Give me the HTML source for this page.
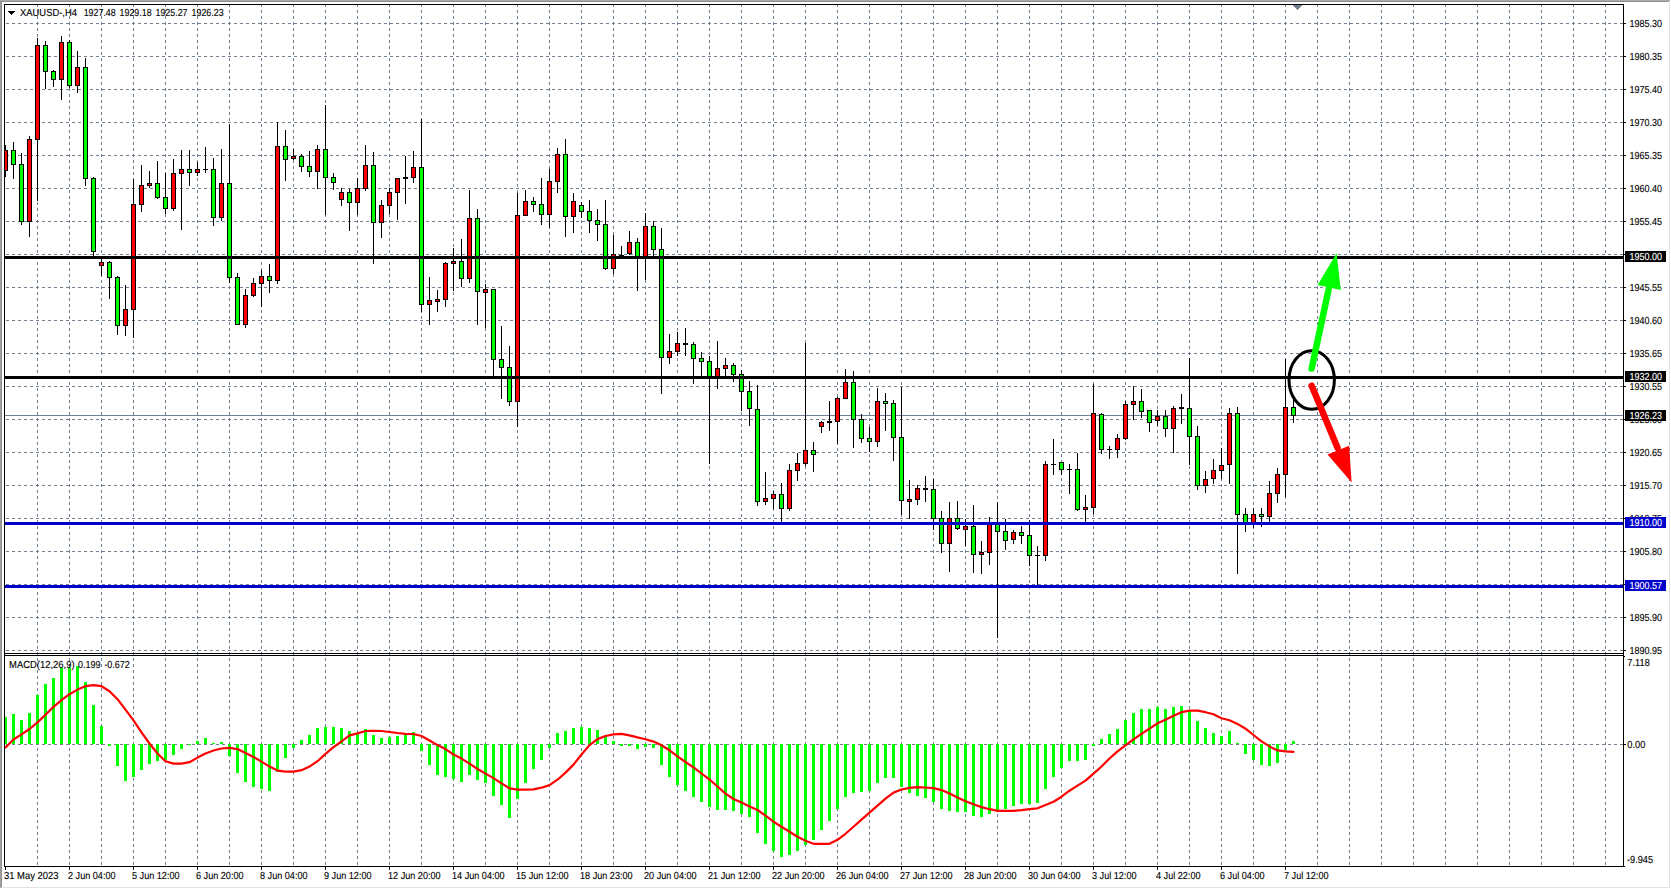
<!DOCTYPE html>
<html><head><meta charset="utf-8"><title>XAUUSD-,H4</title>
<style>
html,body{margin:0;padding:0;background:#fff;overflow:hidden}
svg{display:block}
text{font-family:"Liberation Sans",sans-serif;font-size:10.2px;text-rendering:geometricPrecision;fill:#000;stroke:#000;stroke-width:.12px}
.w{fill:#fff;stroke:#fff}
</style></head><body>
<svg width="1671" height="889" viewBox="0 0 1671 889">
<rect x="0" y="0" width="1671" height="889" fill="#fff"/>
<g shape-rendering="crispEdges">
<rect x="0" y="0" width="1670" height="1" fill="#ababab"/>
<rect x="0" y="1" width="1669" height="1" fill="#8e8e8e"/>
<rect x="0" y="0" width="1" height="888" fill="#a0a0a0"/>
<rect x="1" y="1" width="1" height="886" fill="#8e8e8e"/>
<rect x="1669" y="2" width="1" height="886" fill="#e3e3e3"/>
<rect x="1" y="887" width="1669" height="1" fill="#e3e3e3"/>
</g>
<g stroke="#708090" stroke-width="1" stroke-dasharray="3 3" shape-rendering="crispEdges" fill="none">
<path d="M6 23.5H1623"/><path d="M6 56.5H1623"/><path d="M6 89.5H1623"/><path d="M6 122.5H1623"/><path d="M6 155.5H1623"/><path d="M6 188.5H1623"/><path d="M6 221.5H1623"/><path d="M6 254.5H1623"/><path d="M6 287.5H1623"/><path d="M6 320.5H1623"/><path d="M6 353.5H1623"/><path d="M6 386.5H1623"/><path d="M6 419.5H1623"/><path d="M6 452.5H1623"/><path d="M6 485.5H1623"/><path d="M6 518.5H1623"/><path d="M6 551.5H1623"/><path d="M6 584.5H1623"/><path d="M6 617.5H1623"/><path d="M6 650.5H1623"/><path d="M6 744.5H1623"/>
<path d="M37.5 4V866"/><path d="M69.5 4V866"/><path d="M101.5 4V866"/><path d="M133.5 4V866"/><path d="M165.5 4V866"/><path d="M197.5 4V866"/><path d="M229.5 4V866"/><path d="M261.5 4V866"/><path d="M293.5 4V866"/><path d="M325.5 4V866"/><path d="M357.5 4V866"/><path d="M389.5 4V866"/><path d="M421.5 4V866"/><path d="M453.5 4V866"/><path d="M485.5 4V866"/><path d="M517.5 4V866"/><path d="M549.5 4V866"/><path d="M581.5 4V866"/><path d="M613.5 4V866"/><path d="M645.5 4V866"/><path d="M677.5 4V866"/><path d="M709.5 4V866"/><path d="M741.5 4V866"/><path d="M773.5 4V866"/><path d="M805.5 4V866"/><path d="M837.5 4V866"/><path d="M869.5 4V866"/><path d="M901.5 4V866"/><path d="M933.5 4V866"/><path d="M965.5 4V866"/><path d="M997.5 4V866"/><path d="M1029.5 4V866"/><path d="M1061.5 4V866"/><path d="M1093.5 4V866"/><path d="M1125.5 4V866"/><path d="M1157.5 4V866"/><path d="M1189.5 4V866"/><path d="M1221.5 4V866"/><path d="M1253.5 4V866"/><path d="M1285.5 4V866"/><path d="M1317.5 4V866"/><path d="M1349.5 4V866"/><path d="M1381.5 4V866"/><path d="M1413.5 4V866"/><path d="M1445.5 4V866"/><path d="M1477.5 4V866"/><path d="M1509.5 4V866"/><path d="M1541.5 4V866"/><path d="M1573.5 4V866"/><path d="M1605.5 4V866"/>
</g>
<g fill="#00ff00" shape-rendering="crispEdges">
<rect x="4" y="717" width="3" height="27"/><rect x="12" y="714" width="3" height="30"/><rect x="20" y="720" width="3" height="24"/><rect x="28" y="713" width="3" height="31"/><rect x="36" y="695" width="3" height="49"/><rect x="44" y="684" width="3" height="60"/><rect x="52" y="678" width="3" height="66"/><rect x="60" y="668" width="3" height="76"/><rect x="68" y="668" width="3" height="76"/><rect x="76" y="666" width="3" height="78"/><rect x="84" y="682" width="3" height="62"/><rect x="92" y="705" width="3" height="39"/><rect x="100" y="726" width="3" height="18"/><rect x="108" y="744" width="3" height="2"/><rect x="116" y="744" width="3" height="22"/><rect x="124" y="744" width="3" height="37"/><rect x="132" y="744" width="3" height="33"/><rect x="140" y="744" width="3" height="26"/><rect x="148" y="744" width="3" height="20"/><rect x="156" y="744" width="3" height="17"/><rect x="164" y="744" width="3" height="16"/><rect x="172" y="744" width="3" height="11"/><rect x="180" y="744" width="3" height="5"/><rect x="188" y="744" width="3" height="1"/><rect x="196" y="741" width="3" height="3"/><rect x="204" y="738" width="3" height="6"/><rect x="212" y="743" width="3" height="1"/><rect x="220" y="742" width="3" height="2"/><rect x="228" y="744" width="3" height="12"/><rect x="236" y="744" width="3" height="29"/><rect x="244" y="744" width="3" height="38"/><rect x="252" y="744" width="3" height="43"/><rect x="260" y="744" width="3" height="45"/><rect x="268" y="744" width="3" height="47"/><rect x="276" y="744" width="3" height="28"/><rect x="284" y="744" width="3" height="14"/><rect x="292" y="744" width="3" height="4"/><rect x="300" y="740" width="3" height="4"/><rect x="308" y="735" width="3" height="9"/><rect x="316" y="728" width="3" height="16"/><rect x="324" y="727" width="3" height="17"/><rect x="332" y="727" width="3" height="17"/><rect x="340" y="728" width="3" height="16"/><rect x="348" y="731" width="3" height="13"/><rect x="356" y="733" width="3" height="11"/><rect x="364" y="729" width="3" height="15"/><rect x="372" y="735" width="3" height="9"/><rect x="380" y="738" width="3" height="6"/><rect x="388" y="737" width="3" height="7"/><rect x="396" y="736" width="3" height="8"/><rect x="404" y="734" width="3" height="10"/><rect x="412" y="732" width="3" height="12"/><rect x="420" y="744" width="3" height="7"/><rect x="428" y="744" width="3" height="21"/><rect x="436" y="744" width="3" height="31"/><rect x="444" y="744" width="3" height="33"/><rect x="452" y="744" width="3" height="35"/><rect x="460" y="744" width="3" height="38"/><rect x="468" y="744" width="3" height="31"/><rect x="476" y="744" width="3" height="36"/><rect x="484" y="744" width="3" height="39"/><rect x="492" y="744" width="3" height="52"/><rect x="500" y="744" width="3" height="61"/><rect x="508" y="744" width="3" height="74"/><rect x="516" y="744" width="3" height="55"/><rect x="524" y="744" width="3" height="39"/><rect x="532" y="744" width="3" height="25"/><rect x="540" y="744" width="3" height="16"/><rect x="548" y="744" width="3" height="4"/><rect x="556" y="733" width="3" height="11"/><rect x="564" y="731" width="3" height="13"/><rect x="572" y="728" width="3" height="16"/><rect x="580" y="727" width="3" height="17"/><rect x="588" y="728" width="3" height="16"/><rect x="596" y="730" width="3" height="14"/><rect x="604" y="736" width="3" height="8"/><rect x="612" y="741" width="3" height="3"/><rect x="620" y="744" width="3" height="2"/><rect x="628" y="744" width="3" height="2"/><rect x="636" y="744" width="3" height="5"/><rect x="644" y="744" width="3" height="3"/><rect x="652" y="744" width="3" height="4"/><rect x="660" y="744" width="3" height="21"/><rect x="668" y="744" width="3" height="33"/><rect x="676" y="744" width="3" height="41"/><rect x="684" y="744" width="3" height="47"/><rect x="692" y="744" width="3" height="53"/><rect x="700" y="744" width="3" height="58"/><rect x="708" y="744" width="3" height="63"/><rect x="716" y="744" width="3" height="66"/><rect x="724" y="744" width="3" height="66"/><rect x="732" y="744" width="3" height="67"/><rect x="740" y="744" width="3" height="70"/><rect x="748" y="744" width="3" height="73"/><rect x="756" y="744" width="3" height="89"/><rect x="764" y="744" width="3" height="100"/><rect x="772" y="744" width="3" height="107"/><rect x="780" y="744" width="3" height="113"/><rect x="788" y="744" width="3" height="111"/><rect x="796" y="744" width="3" height="107"/><rect x="804" y="744" width="3" height="101"/><rect x="812" y="744" width="3" height="96"/><rect x="820" y="744" width="3" height="86"/><rect x="828" y="744" width="3" height="77"/><rect x="836" y="744" width="3" height="65"/><rect x="844" y="744" width="3" height="53"/><rect x="852" y="744" width="3" height="49"/><rect x="860" y="744" width="3" height="48"/><rect x="868" y="744" width="3" height="47"/><rect x="876" y="744" width="3" height="39"/><rect x="884" y="744" width="3" height="34"/><rect x="892" y="744" width="3" height="34"/><rect x="900" y="744" width="3" height="43"/><rect x="908" y="744" width="3" height="49"/><rect x="916" y="744" width="3" height="52"/><rect x="924" y="744" width="3" height="54"/><rect x="932" y="744" width="3" height="58"/><rect x="940" y="744" width="3" height="65"/><rect x="948" y="744" width="3" height="67"/><rect x="956" y="744" width="3" height="68"/><rect x="964" y="744" width="3" height="68"/><rect x="972" y="744" width="3" height="72"/><rect x="980" y="744" width="3" height="73"/><rect x="988" y="744" width="3" height="70"/><rect x="996" y="744" width="3" height="67"/><rect x="1004" y="744" width="3" height="65"/><rect x="1012" y="744" width="3" height="62"/><rect x="1020" y="744" width="3" height="60"/><rect x="1028" y="744" width="3" height="60"/><rect x="1036" y="744" width="3" height="59"/><rect x="1044" y="744" width="3" height="45"/><rect x="1052" y="744" width="3" height="33"/><rect x="1060" y="744" width="3" height="24"/><rect x="1068" y="744" width="3" height="17"/><rect x="1076" y="744" width="3" height="17"/><rect x="1084" y="744" width="3" height="16"/><rect x="1092" y="744" width="3" height="2"/><rect x="1100" y="739" width="3" height="5"/><rect x="1108" y="734" width="3" height="10"/><rect x="1116" y="729" width="3" height="15"/><rect x="1124" y="720" width="3" height="24"/><rect x="1132" y="713" width="3" height="31"/><rect x="1140" y="709" width="3" height="35"/><rect x="1148" y="709" width="3" height="35"/><rect x="1156" y="707" width="3" height="37"/><rect x="1164" y="709" width="3" height="35"/><rect x="1172" y="707" width="3" height="37"/><rect x="1180" y="706" width="3" height="38"/><rect x="1188" y="710" width="3" height="34"/><rect x="1196" y="721" width="3" height="23"/><rect x="1204" y="728" width="3" height="16"/><rect x="1212" y="733" width="3" height="11"/><rect x="1220" y="736" width="3" height="8"/><rect x="1228" y="731" width="3" height="13"/><rect x="1236" y="743" width="3" height="1"/><rect x="1244" y="744" width="3" height="10"/><rect x="1252" y="744" width="3" height="16"/><rect x="1260" y="744" width="3" height="21"/><rect x="1268" y="744" width="3" height="22"/><rect x="1276" y="744" width="3" height="19"/><rect x="1284" y="744" width="3" height="6"/><rect x="1292" y="741" width="3" height="3"/>
</g>
<polyline points="5.5,747.5 13.5,739.5 21.5,734.4 29.5,729.0 37.5,722.4 45.5,714.7 53.5,706.9 61.5,700.2 69.5,694.2 77.5,689.6 85.5,686.2 93.5,685.2 101.5,686.2 109.5,691.2 117.5,699.2 125.5,709.7 133.5,720.4 141.5,732.4 149.5,743.5 157.5,753.5 165.5,761.2 173.5,763.6 181.5,763.6 189.5,762.2 197.5,757.6 205.5,753.5 213.5,750.5 221.5,748.5 229.5,747.9 237.5,749.1 245.5,752.9 253.5,756.9 261.5,761.6 269.5,766.6 277.5,770.6 285.5,771.6 293.5,771.6 301.5,770.2 309.5,766.6 317.5,761.2 325.5,753.9 333.5,747.1 341.5,741.5 349.5,735.4 357.5,733.4 365.5,731.0 373.5,730.8 381.5,731.0 389.5,732.0 397.5,733.0 405.5,733.8 413.5,734.0 421.5,736.0 429.5,740.5 437.5,745.1 445.5,749.1 453.5,754.5 461.5,758.6 469.5,763.6 477.5,769.0 485.5,773.6 493.5,778.1 501.5,783.3 509.5,788.3 517.5,789.7 525.5,789.7 533.5,789.3 541.5,787.7 549.5,785.1 557.5,779.7 565.5,772.6 573.5,764.6 581.5,754.5 589.5,745.1 597.5,739.1 605.5,736.0 613.5,734.4 621.5,733.8 629.5,735.4 637.5,737.4 645.5,739.2 653.5,741.6 661.5,745.3 669.5,750.3 677.5,756.4 685.5,762.0 693.5,767.4 701.5,773.5 709.5,779.5 717.5,786.5 725.5,793.6 733.5,799.0 741.5,802.6 749.5,806.6 757.5,810.0 765.5,815.7 773.5,821.7 781.5,826.7 789.5,831.8 797.5,836.8 805.5,840.8 813.5,843.8 821.5,843.8 829.5,843.8 837.5,839.8 845.5,833.8 853.5,826.7 861.5,819.7 869.5,812.7 877.5,805.6 885.5,798.6 893.5,792.6 901.5,789.5 909.5,787.9 917.5,787.1 925.5,787.5 933.5,788.1 941.5,790.1 949.5,793.6 957.5,797.6 965.5,801.2 973.5,804.2 981.5,807.1 989.5,809.2 997.5,810.8 1005.5,810.8 1013.5,810.8 1021.5,810.2 1029.5,809.2 1037.5,808.3 1045.5,805.1 1053.5,801.7 1061.5,796.7 1069.5,790.7 1077.5,785.6 1085.5,780.6 1093.5,773.6 1101.5,766.5 1109.5,758.5 1117.5,751.4 1125.5,745.4 1133.5,739.4 1141.5,733.9 1149.5,728.7 1157.5,723.3 1165.5,719.7 1173.5,715.8 1181.5,712.2 1189.5,710.6 1197.5,710.6 1205.5,712.2 1213.5,714.2 1221.5,718.3 1229.5,720.3 1237.5,723.9 1245.5,728.7 1253.5,735.0 1261.5,741.4 1269.5,746.4 1277.5,750.4 1285.5,751.4 1293.5,751.8" fill="none" stroke="#ff0000" stroke-width="2.2" stroke-linejoin="round" stroke-linecap="round"/>
<defs><clipPath id="cm"><rect x="5" y="5" width="1618" height="648"/></clipPath></defs>
<rect x="5" y="415" width="1618" height="1" fill="#708090" shape-rendering="crispEdges"/>
<g shape-rendering="crispEdges" clip-path="url(#cm)">
<rect x="5" y="145" width="1" height="32" fill="#000"/><rect x="3" y="150" width="5" height="21" fill="#000"/><rect x="4" y="151" width="3" height="19" fill="#ff0000"/>
<rect x="13" y="142" width="1" height="37" fill="#000"/><rect x="11" y="150" width="5" height="15" fill="#000"/><rect x="12" y="151" width="3" height="13" fill="#00ff00"/>
<rect x="21" y="153" width="1" height="72" fill="#000"/><rect x="19" y="164" width="5" height="58" fill="#000"/><rect x="20" y="165" width="3" height="56" fill="#00ff00"/>
<rect x="29" y="136" width="1" height="101" fill="#000"/><rect x="27" y="139" width="5" height="83" fill="#000"/><rect x="28" y="140" width="3" height="81" fill="#ff0000"/>
<rect x="37" y="38" width="1" height="163" fill="#000"/><rect x="35" y="45" width="5" height="95" fill="#000"/><rect x="36" y="46" width="3" height="93" fill="#ff0000"/>
<rect x="45" y="41" width="1" height="48" fill="#000"/><rect x="43" y="45" width="5" height="27" fill="#000"/><rect x="44" y="46" width="3" height="25" fill="#00ff00"/>
<rect x="53" y="70" width="1" height="17" fill="#000"/><rect x="51" y="71" width="5" height="9" fill="#000"/><rect x="52" y="72" width="3" height="7" fill="#00ff00"/>
<rect x="61" y="36" width="1" height="64" fill="#000"/><rect x="59" y="42" width="5" height="38" fill="#000"/><rect x="60" y="43" width="3" height="36" fill="#ff0000"/>
<rect x="69" y="40" width="1" height="48" fill="#000"/><rect x="67" y="42" width="5" height="44" fill="#000"/><rect x="68" y="43" width="3" height="42" fill="#00ff00"/>
<rect x="77" y="51" width="1" height="42" fill="#000"/><rect x="75" y="67" width="5" height="19" fill="#000"/><rect x="76" y="68" width="3" height="17" fill="#ff0000"/>
<rect x="85" y="58" width="1" height="128" fill="#000"/><rect x="83" y="67" width="5" height="112" fill="#000"/><rect x="84" y="68" width="3" height="110" fill="#00ff00"/>
<rect x="93" y="177" width="1" height="79" fill="#000"/><rect x="91" y="178" width="5" height="74" fill="#000"/><rect x="92" y="179" width="3" height="72" fill="#00ff00"/>
<rect x="101" y="259" width="1" height="17" fill="#000"/><rect x="99" y="262" width="5" height="4" fill="#000"/><rect x="100" y="263" width="3" height="2" fill="#ff0000"/>
<rect x="109" y="261" width="1" height="38" fill="#000"/><rect x="107" y="262" width="5" height="16" fill="#000"/><rect x="108" y="263" width="3" height="14" fill="#00ff00"/>
<rect x="117" y="276" width="1" height="59" fill="#000"/><rect x="115" y="277" width="5" height="49" fill="#000"/><rect x="116" y="278" width="3" height="47" fill="#00ff00"/>
<rect x="125" y="285" width="1" height="51" fill="#000"/><rect x="123" y="309" width="5" height="17" fill="#000"/><rect x="124" y="310" width="3" height="15" fill="#ff0000"/>
<rect x="133" y="179" width="1" height="159" fill="#000"/><rect x="131" y="204" width="5" height="106" fill="#000"/><rect x="132" y="205" width="3" height="104" fill="#ff0000"/>
<rect x="141" y="165" width="1" height="47" fill="#000"/><rect x="139" y="185" width="5" height="20" fill="#000"/><rect x="140" y="186" width="3" height="18" fill="#ff0000"/>
<rect x="149" y="171" width="1" height="17" fill="#000"/><rect x="147" y="183" width="5" height="3" fill="#000"/><rect x="148" y="184" width="3" height="1" fill="#ff0000"/>
<rect x="157" y="161" width="1" height="38" fill="#000"/><rect x="155" y="183" width="5" height="15" fill="#000"/><rect x="156" y="184" width="3" height="13" fill="#00ff00"/>
<rect x="165" y="173" width="1" height="41" fill="#000"/><rect x="163" y="197" width="5" height="12" fill="#000"/><rect x="164" y="198" width="3" height="10" fill="#00ff00"/>
<rect x="173" y="159" width="1" height="52" fill="#000"/><rect x="171" y="173" width="5" height="36" fill="#000"/><rect x="172" y="174" width="3" height="34" fill="#ff0000"/>
<rect x="181" y="150" width="1" height="80" fill="#000"/><rect x="179" y="169" width="5" height="5" fill="#000"/><rect x="180" y="170" width="3" height="3" fill="#ff0000"/>
<rect x="189" y="150" width="1" height="36" fill="#000"/><rect x="187" y="169" width="5" height="4" fill="#000"/><rect x="188" y="170" width="3" height="2" fill="#00ff00"/>
<rect x="197" y="162" width="1" height="14" fill="#000"/><rect x="195" y="169" width="5" height="4" fill="#000"/><rect x="196" y="170" width="3" height="2" fill="#ff0000"/>
<rect x="205" y="147" width="1" height="26" fill="#000"/><rect x="203" y="169" width="5" height="1" fill="#000"/>
<rect x="213" y="158" width="1" height="68" fill="#000"/><rect x="211" y="169" width="5" height="49" fill="#000"/><rect x="212" y="170" width="3" height="47" fill="#00ff00"/>
<rect x="221" y="149" width="1" height="72" fill="#000"/><rect x="219" y="183" width="5" height="35" fill="#000"/><rect x="220" y="184" width="3" height="33" fill="#ff0000"/>
<rect x="229" y="124" width="1" height="159" fill="#000"/><rect x="227" y="183" width="5" height="95" fill="#000"/><rect x="228" y="184" width="3" height="93" fill="#00ff00"/>
<rect x="237" y="273" width="1" height="52" fill="#000"/><rect x="235" y="277" width="5" height="48" fill="#000"/><rect x="236" y="278" width="3" height="46" fill="#00ff00"/>
<rect x="245" y="289" width="1" height="39" fill="#000"/><rect x="243" y="295" width="5" height="30" fill="#000"/><rect x="244" y="296" width="3" height="28" fill="#ff0000"/>
<rect x="253" y="278" width="1" height="19" fill="#000"/><rect x="251" y="283" width="5" height="13" fill="#000"/><rect x="252" y="284" width="3" height="11" fill="#ff0000"/>
<rect x="261" y="270" width="1" height="37" fill="#000"/><rect x="259" y="276" width="5" height="8" fill="#000"/><rect x="260" y="277" width="3" height="6" fill="#ff0000"/>
<rect x="269" y="264" width="1" height="29" fill="#000"/><rect x="267" y="276" width="5" height="5" fill="#000"/><rect x="268" y="277" width="3" height="3" fill="#00ff00"/>
<rect x="277" y="122" width="1" height="162" fill="#000"/><rect x="275" y="146" width="5" height="135" fill="#000"/><rect x="276" y="147" width="3" height="133" fill="#ff0000"/>
<rect x="285" y="130" width="1" height="51" fill="#000"/><rect x="283" y="146" width="5" height="14" fill="#000"/><rect x="284" y="147" width="3" height="12" fill="#00ff00"/>
<rect x="293" y="149" width="1" height="11" fill="#000"/><rect x="291" y="156" width="5" height="3" fill="#000"/><rect x="292" y="157" width="3" height="1" fill="#ff0000"/>
<rect x="301" y="154" width="1" height="18" fill="#000"/><rect x="299" y="156" width="5" height="11" fill="#000"/><rect x="300" y="157" width="3" height="9" fill="#00ff00"/>
<rect x="309" y="151" width="1" height="26" fill="#000"/><rect x="307" y="166" width="5" height="6" fill="#000"/><rect x="308" y="167" width="3" height="4" fill="#00ff00"/>
<rect x="317" y="145" width="1" height="44" fill="#000"/><rect x="315" y="149" width="5" height="23" fill="#000"/><rect x="316" y="150" width="3" height="21" fill="#ff0000"/>
<rect x="325" y="105" width="1" height="110" fill="#000"/><rect x="323" y="149" width="5" height="29" fill="#000"/><rect x="324" y="150" width="3" height="27" fill="#00ff00"/>
<rect x="333" y="173" width="1" height="17" fill="#000"/><rect x="331" y="177" width="5" height="6" fill="#000"/><rect x="332" y="178" width="3" height="4" fill="#00ff00"/>
<rect x="341" y="188" width="1" height="18" fill="#000"/><rect x="339" y="192" width="5" height="8" fill="#000"/><rect x="340" y="193" width="3" height="6" fill="#ff0000"/>
<rect x="349" y="189" width="1" height="42" fill="#000"/><rect x="347" y="192" width="5" height="11" fill="#000"/><rect x="348" y="193" width="3" height="9" fill="#00ff00"/>
<rect x="357" y="178" width="1" height="37" fill="#000"/><rect x="355" y="188" width="5" height="15" fill="#000"/><rect x="356" y="189" width="3" height="13" fill="#ff0000"/>
<rect x="365" y="145" width="1" height="46" fill="#000"/><rect x="363" y="165" width="5" height="24" fill="#000"/><rect x="364" y="166" width="3" height="22" fill="#ff0000"/>
<rect x="373" y="152" width="1" height="112" fill="#000"/><rect x="371" y="165" width="5" height="58" fill="#000"/><rect x="372" y="166" width="3" height="56" fill="#00ff00"/>
<rect x="381" y="200" width="1" height="38" fill="#000"/><rect x="379" y="205" width="5" height="18" fill="#000"/><rect x="380" y="206" width="3" height="16" fill="#ff0000"/>
<rect x="389" y="188" width="1" height="26" fill="#000"/><rect x="387" y="192" width="5" height="14" fill="#000"/><rect x="388" y="193" width="3" height="12" fill="#ff0000"/>
<rect x="397" y="178" width="1" height="42" fill="#000"/><rect x="395" y="178" width="5" height="15" fill="#000"/><rect x="396" y="179" width="3" height="13" fill="#ff0000"/>
<rect x="405" y="156" width="1" height="48" fill="#000"/><rect x="403" y="177" width="5" height="2" fill="#000"/>
<rect x="413" y="151" width="1" height="32" fill="#000"/><rect x="411" y="167" width="5" height="11" fill="#000"/><rect x="412" y="168" width="3" height="9" fill="#ff0000"/>
<rect x="421" y="119" width="1" height="193" fill="#000"/><rect x="419" y="167" width="5" height="138" fill="#000"/><rect x="420" y="168" width="3" height="136" fill="#00ff00"/>
<rect x="429" y="277" width="1" height="48" fill="#000"/><rect x="427" y="300" width="5" height="5" fill="#000"/><rect x="428" y="301" width="3" height="3" fill="#ff0000"/>
<rect x="437" y="290" width="1" height="22" fill="#000"/><rect x="435" y="299" width="5" height="3" fill="#000"/><rect x="436" y="300" width="3" height="1" fill="#ff0000"/>
<rect x="445" y="262" width="1" height="45" fill="#000"/><rect x="443" y="263" width="5" height="37" fill="#000"/><rect x="444" y="264" width="3" height="35" fill="#ff0000"/>
<rect x="453" y="248" width="1" height="43" fill="#000"/><rect x="451" y="261" width="5" height="3" fill="#000"/><rect x="452" y="262" width="3" height="1" fill="#ff0000"/>
<rect x="461" y="239" width="1" height="48" fill="#000"/><rect x="459" y="261" width="5" height="18" fill="#000"/><rect x="460" y="262" width="3" height="16" fill="#00ff00"/>
<rect x="469" y="190" width="1" height="93" fill="#000"/><rect x="467" y="218" width="5" height="61" fill="#000"/><rect x="468" y="219" width="3" height="59" fill="#ff0000"/>
<rect x="477" y="209" width="1" height="116" fill="#000"/><rect x="475" y="218" width="5" height="74" fill="#000"/><rect x="476" y="219" width="3" height="72" fill="#00ff00"/>
<rect x="485" y="284" width="1" height="44" fill="#000"/><rect x="483" y="289" width="5" height="4" fill="#000"/><rect x="484" y="290" width="3" height="2" fill="#ff0000"/>
<rect x="493" y="289" width="1" height="88" fill="#000"/><rect x="491" y="289" width="5" height="71" fill="#000"/><rect x="492" y="290" width="3" height="69" fill="#00ff00"/>
<rect x="501" y="326" width="1" height="73" fill="#000"/><rect x="499" y="359" width="5" height="9" fill="#000"/><rect x="500" y="360" width="3" height="7" fill="#00ff00"/>
<rect x="509" y="346" width="1" height="60" fill="#000"/><rect x="507" y="367" width="5" height="35" fill="#000"/><rect x="508" y="368" width="3" height="33" fill="#00ff00"/>
<rect x="517" y="193" width="1" height="234" fill="#000"/><rect x="515" y="215" width="5" height="187" fill="#000"/><rect x="516" y="216" width="3" height="185" fill="#ff0000"/>
<rect x="525" y="190" width="1" height="26" fill="#000"/><rect x="523" y="201" width="5" height="15" fill="#000"/><rect x="524" y="202" width="3" height="13" fill="#ff0000"/>
<rect x="533" y="197" width="1" height="15" fill="#000"/><rect x="531" y="201" width="5" height="4" fill="#000"/><rect x="532" y="202" width="3" height="2" fill="#00ff00"/>
<rect x="541" y="178" width="1" height="47" fill="#000"/><rect x="539" y="204" width="5" height="11" fill="#000"/><rect x="540" y="205" width="3" height="9" fill="#00ff00"/>
<rect x="549" y="169" width="1" height="59" fill="#000"/><rect x="547" y="181" width="5" height="34" fill="#000"/><rect x="548" y="182" width="3" height="32" fill="#ff0000"/>
<rect x="557" y="148" width="1" height="45" fill="#000"/><rect x="555" y="154" width="5" height="28" fill="#000"/><rect x="556" y="155" width="3" height="26" fill="#ff0000"/>
<rect x="565" y="139" width="1" height="98" fill="#000"/><rect x="563" y="154" width="5" height="63" fill="#000"/><rect x="564" y="155" width="3" height="61" fill="#00ff00"/>
<rect x="573" y="193" width="1" height="40" fill="#000"/><rect x="571" y="201" width="5" height="16" fill="#000"/><rect x="572" y="202" width="3" height="14" fill="#ff0000"/>
<rect x="581" y="202" width="1" height="16" fill="#000"/><rect x="579" y="205" width="5" height="7" fill="#000"/><rect x="580" y="206" width="3" height="5" fill="#00ff00"/>
<rect x="589" y="200" width="1" height="33" fill="#000"/><rect x="587" y="211" width="5" height="10" fill="#000"/><rect x="588" y="212" width="3" height="8" fill="#00ff00"/>
<rect x="597" y="209" width="1" height="32" fill="#000"/><rect x="595" y="220" width="5" height="5" fill="#000"/><rect x="596" y="221" width="3" height="3" fill="#00ff00"/>
<rect x="605" y="200" width="1" height="70" fill="#000"/><rect x="603" y="224" width="5" height="45" fill="#000"/><rect x="604" y="225" width="3" height="43" fill="#00ff00"/>
<rect x="613" y="235" width="1" height="39" fill="#000"/><rect x="611" y="254" width="5" height="15" fill="#000"/><rect x="612" y="255" width="3" height="13" fill="#ff0000"/>
<rect x="621" y="246" width="1" height="11" fill="#000"/><rect x="619" y="255" width="5" height="1" fill="#000"/>
<rect x="629" y="231" width="1" height="24" fill="#000"/><rect x="627" y="242" width="5" height="12" fill="#000"/><rect x="628" y="243" width="3" height="10" fill="#ff0000"/>
<rect x="637" y="238" width="1" height="53" fill="#000"/><rect x="635" y="242" width="5" height="15" fill="#000"/><rect x="636" y="243" width="3" height="13" fill="#00ff00"/>
<rect x="645" y="213" width="1" height="67" fill="#000"/><rect x="643" y="226" width="5" height="31" fill="#000"/><rect x="644" y="227" width="3" height="29" fill="#ff0000"/>
<rect x="653" y="221" width="1" height="36" fill="#000"/><rect x="651" y="226" width="5" height="24" fill="#000"/><rect x="652" y="227" width="3" height="22" fill="#00ff00"/>
<rect x="661" y="228" width="1" height="166" fill="#000"/><rect x="659" y="249" width="5" height="109" fill="#000"/><rect x="660" y="250" width="3" height="107" fill="#00ff00"/>
<rect x="669" y="334" width="1" height="30" fill="#000"/><rect x="667" y="351" width="5" height="7" fill="#000"/><rect x="668" y="352" width="3" height="5" fill="#ff0000"/>
<rect x="677" y="332" width="1" height="24" fill="#000"/><rect x="675" y="343" width="5" height="9" fill="#000"/><rect x="676" y="344" width="3" height="7" fill="#ff0000"/>
<rect x="685" y="328" width="1" height="28" fill="#000"/><rect x="683" y="343" width="5" height="2" fill="#000"/>
<rect x="693" y="342" width="1" height="42" fill="#000"/><rect x="691" y="344" width="5" height="15" fill="#000"/><rect x="692" y="345" width="3" height="13" fill="#00ff00"/>
<rect x="701" y="352" width="1" height="24" fill="#000"/><rect x="699" y="358" width="5" height="4" fill="#000"/><rect x="700" y="359" width="3" height="2" fill="#00ff00"/>
<rect x="709" y="356" width="1" height="108" fill="#000"/><rect x="707" y="361" width="5" height="16" fill="#000"/><rect x="708" y="362" width="3" height="14" fill="#00ff00"/>
<rect x="717" y="341" width="1" height="48" fill="#000"/><rect x="715" y="368" width="5" height="9" fill="#000"/><rect x="716" y="369" width="3" height="7" fill="#ff0000"/>
<rect x="725" y="358" width="1" height="18" fill="#000"/><rect x="723" y="365" width="5" height="4" fill="#000"/><rect x="724" y="366" width="3" height="2" fill="#ff0000"/>
<rect x="733" y="363" width="1" height="19" fill="#000"/><rect x="731" y="365" width="5" height="10" fill="#000"/><rect x="732" y="366" width="3" height="8" fill="#00ff00"/>
<rect x="741" y="370" width="1" height="41" fill="#000"/><rect x="739" y="374" width="5" height="18" fill="#000"/><rect x="740" y="375" width="3" height="16" fill="#00ff00"/>
<rect x="749" y="381" width="1" height="45" fill="#000"/><rect x="747" y="391" width="5" height="18" fill="#000"/><rect x="748" y="392" width="3" height="16" fill="#00ff00"/>
<rect x="757" y="385" width="1" height="121" fill="#000"/><rect x="755" y="409" width="5" height="93" fill="#000"/><rect x="756" y="410" width="3" height="91" fill="#00ff00"/>
<rect x="765" y="472" width="1" height="33" fill="#000"/><rect x="763" y="498" width="5" height="4" fill="#000"/><rect x="764" y="499" width="3" height="2" fill="#ff0000"/>
<rect x="773" y="491" width="1" height="18" fill="#000"/><rect x="771" y="494" width="5" height="5" fill="#000"/><rect x="772" y="495" width="3" height="3" fill="#ff0000"/>
<rect x="781" y="483" width="1" height="39" fill="#000"/><rect x="779" y="494" width="5" height="15" fill="#000"/><rect x="780" y="495" width="3" height="13" fill="#00ff00"/>
<rect x="789" y="464" width="1" height="47" fill="#000"/><rect x="787" y="470" width="5" height="39" fill="#000"/><rect x="788" y="471" width="3" height="37" fill="#ff0000"/>
<rect x="797" y="453" width="1" height="28" fill="#000"/><rect x="795" y="463" width="5" height="8" fill="#000"/><rect x="796" y="464" width="3" height="6" fill="#ff0000"/>
<rect x="805" y="343" width="1" height="123" fill="#000"/><rect x="803" y="450" width="5" height="14" fill="#000"/><rect x="804" y="451" width="3" height="12" fill="#ff0000"/>
<rect x="813" y="442" width="1" height="30" fill="#000"/><rect x="811" y="450" width="5" height="5" fill="#000"/><rect x="812" y="451" width="3" height="3" fill="#00ff00"/>
<rect x="821" y="421" width="1" height="12" fill="#000"/><rect x="819" y="422" width="5" height="5" fill="#000"/><rect x="820" y="423" width="3" height="3" fill="#ff0000"/>
<rect x="829" y="401" width="1" height="30" fill="#000"/><rect x="827" y="421" width="5" height="2" fill="#000"/>
<rect x="837" y="397" width="1" height="47" fill="#000"/><rect x="835" y="398" width="5" height="24" fill="#000"/><rect x="836" y="399" width="3" height="22" fill="#ff0000"/>
<rect x="845" y="369" width="1" height="30" fill="#000"/><rect x="843" y="382" width="5" height="17" fill="#000"/><rect x="844" y="383" width="3" height="15" fill="#ff0000"/>
<rect x="853" y="371" width="1" height="77" fill="#000"/><rect x="851" y="382" width="5" height="38" fill="#000"/><rect x="852" y="383" width="3" height="36" fill="#00ff00"/>
<rect x="861" y="414" width="1" height="29" fill="#000"/><rect x="859" y="419" width="5" height="20" fill="#000"/><rect x="860" y="420" width="3" height="18" fill="#00ff00"/>
<rect x="869" y="427" width="1" height="25" fill="#000"/><rect x="867" y="438" width="5" height="4" fill="#000"/><rect x="868" y="439" width="3" height="2" fill="#00ff00"/>
<rect x="877" y="388" width="1" height="59" fill="#000"/><rect x="875" y="401" width="5" height="41" fill="#000"/><rect x="876" y="402" width="3" height="39" fill="#ff0000"/>
<rect x="885" y="393" width="1" height="38" fill="#000"/><rect x="883" y="401" width="5" height="3" fill="#000"/><rect x="884" y="402" width="3" height="1" fill="#00ff00"/>
<rect x="893" y="400" width="1" height="61" fill="#000"/><rect x="891" y="403" width="5" height="35" fill="#000"/><rect x="892" y="404" width="3" height="33" fill="#00ff00"/>
<rect x="901" y="387" width="1" height="128" fill="#000"/><rect x="899" y="437" width="5" height="64" fill="#000"/><rect x="900" y="438" width="3" height="62" fill="#00ff00"/>
<rect x="909" y="480" width="1" height="39" fill="#000"/><rect x="907" y="499" width="5" height="3" fill="#000"/><rect x="908" y="500" width="3" height="1" fill="#ff0000"/>
<rect x="917" y="485" width="1" height="20" fill="#000"/><rect x="915" y="488" width="5" height="12" fill="#000"/><rect x="916" y="489" width="3" height="10" fill="#ff0000"/>
<rect x="925" y="476" width="1" height="26" fill="#000"/><rect x="923" y="488" width="5" height="2" fill="#000"/>
<rect x="933" y="479" width="1" height="51" fill="#000"/><rect x="931" y="489" width="5" height="30" fill="#000"/><rect x="932" y="490" width="3" height="28" fill="#00ff00"/>
<rect x="941" y="511" width="1" height="42" fill="#000"/><rect x="939" y="518" width="5" height="26" fill="#000"/><rect x="940" y="519" width="3" height="24" fill="#00ff00"/>
<rect x="949" y="502" width="1" height="70" fill="#000"/><rect x="947" y="518" width="5" height="26" fill="#000"/><rect x="948" y="519" width="3" height="24" fill="#ff0000"/>
<rect x="957" y="501" width="1" height="29" fill="#000"/><rect x="955" y="518" width="5" height="11" fill="#000"/><rect x="956" y="519" width="3" height="9" fill="#00ff00"/>
<rect x="965" y="519" width="1" height="27" fill="#000"/><rect x="963" y="526" width="5" height="4" fill="#000"/><rect x="964" y="527" width="3" height="2" fill="#ff0000"/>
<rect x="973" y="505" width="1" height="68" fill="#000"/><rect x="971" y="526" width="5" height="29" fill="#000"/><rect x="972" y="527" width="3" height="27" fill="#00ff00"/>
<rect x="981" y="541" width="1" height="33" fill="#000"/><rect x="979" y="552" width="5" height="3" fill="#000"/><rect x="980" y="553" width="3" height="1" fill="#ff0000"/>
<rect x="989" y="517" width="1" height="48" fill="#000"/><rect x="987" y="522" width="5" height="31" fill="#000"/><rect x="988" y="523" width="3" height="29" fill="#ff0000"/>
<rect x="997" y="502" width="1" height="136" fill="#000"/><rect x="995" y="522" width="5" height="10" fill="#000"/><rect x="996" y="523" width="3" height="8" fill="#00ff00"/>
<rect x="1005" y="519" width="1" height="31" fill="#000"/><rect x="1003" y="531" width="5" height="10" fill="#000"/><rect x="1004" y="532" width="3" height="8" fill="#00ff00"/>
<rect x="1013" y="530" width="1" height="14" fill="#000"/><rect x="1011" y="532" width="5" height="8" fill="#000"/><rect x="1012" y="533" width="3" height="6" fill="#ff0000"/>
<rect x="1021" y="526" width="1" height="18" fill="#000"/><rect x="1019" y="532" width="5" height="4" fill="#000"/><rect x="1020" y="533" width="3" height="2" fill="#00ff00"/>
<rect x="1029" y="520" width="1" height="46" fill="#000"/><rect x="1027" y="535" width="5" height="21" fill="#000"/><rect x="1028" y="536" width="3" height="19" fill="#00ff00"/>
<rect x="1037" y="546" width="1" height="41" fill="#000"/><rect x="1035" y="555" width="5" height="1" fill="#000"/>
<rect x="1045" y="461" width="1" height="100" fill="#000"/><rect x="1043" y="464" width="5" height="92" fill="#000"/><rect x="1044" y="465" width="3" height="90" fill="#ff0000"/>
<rect x="1053" y="439" width="1" height="36" fill="#000"/><rect x="1051" y="464" width="5" height="1" fill="#000"/>
<rect x="1061" y="462" width="1" height="13" fill="#000"/><rect x="1059" y="462" width="5" height="8" fill="#000"/><rect x="1060" y="463" width="3" height="6" fill="#00ff00"/>
<rect x="1069" y="464" width="1" height="30" fill="#000"/><rect x="1067" y="469" width="5" height="1" fill="#000"/>
<rect x="1077" y="453" width="1" height="58" fill="#000"/><rect x="1075" y="469" width="5" height="41" fill="#000"/><rect x="1076" y="470" width="3" height="39" fill="#00ff00"/>
<rect x="1085" y="495" width="1" height="27" fill="#000"/><rect x="1083" y="507" width="5" height="3" fill="#000"/><rect x="1084" y="508" width="3" height="1" fill="#ff0000"/>
<rect x="1093" y="384" width="1" height="130" fill="#000"/><rect x="1091" y="413" width="5" height="95" fill="#000"/><rect x="1092" y="414" width="3" height="93" fill="#ff0000"/>
<rect x="1101" y="413" width="1" height="41" fill="#000"/><rect x="1099" y="414" width="5" height="36" fill="#000"/><rect x="1100" y="415" width="3" height="34" fill="#00ff00"/>
<rect x="1109" y="446" width="1" height="13" fill="#000"/><rect x="1107" y="449" width="5" height="1" fill="#000"/>
<rect x="1117" y="434" width="1" height="24" fill="#000"/><rect x="1115" y="438" width="5" height="12" fill="#000"/><rect x="1116" y="439" width="3" height="10" fill="#ff0000"/>
<rect x="1125" y="401" width="1" height="39" fill="#000"/><rect x="1123" y="404" width="5" height="35" fill="#000"/><rect x="1124" y="405" width="3" height="33" fill="#ff0000"/>
<rect x="1133" y="386" width="1" height="34" fill="#000"/><rect x="1131" y="401" width="5" height="4" fill="#000"/><rect x="1132" y="402" width="3" height="2" fill="#ff0000"/>
<rect x="1141" y="389" width="1" height="29" fill="#000"/><rect x="1139" y="401" width="5" height="11" fill="#000"/><rect x="1140" y="402" width="3" height="9" fill="#00ff00"/>
<rect x="1149" y="410" width="1" height="22" fill="#000"/><rect x="1147" y="410" width="5" height="13" fill="#000"/><rect x="1148" y="411" width="3" height="11" fill="#00ff00"/>
<rect x="1157" y="410" width="1" height="16" fill="#000"/><rect x="1155" y="416" width="5" height="5" fill="#000"/><rect x="1156" y="417" width="3" height="3" fill="#ff0000"/>
<rect x="1165" y="410" width="1" height="27" fill="#000"/><rect x="1163" y="416" width="5" height="13" fill="#000"/><rect x="1164" y="417" width="3" height="11" fill="#00ff00"/>
<rect x="1173" y="406" width="1" height="47" fill="#000"/><rect x="1171" y="408" width="5" height="21" fill="#000"/><rect x="1172" y="409" width="3" height="19" fill="#ff0000"/>
<rect x="1181" y="394" width="1" height="30" fill="#000"/><rect x="1179" y="407" width="5" height="2" fill="#000"/>
<rect x="1189" y="358" width="1" height="107" fill="#000"/><rect x="1187" y="408" width="5" height="29" fill="#000"/><rect x="1188" y="409" width="3" height="27" fill="#00ff00"/>
<rect x="1197" y="426" width="1" height="64" fill="#000"/><rect x="1195" y="436" width="5" height="50" fill="#000"/><rect x="1196" y="437" width="3" height="48" fill="#00ff00"/>
<rect x="1205" y="471" width="1" height="22" fill="#000"/><rect x="1203" y="479" width="5" height="7" fill="#000"/><rect x="1204" y="480" width="3" height="5" fill="#ff0000"/>
<rect x="1213" y="459" width="1" height="25" fill="#000"/><rect x="1211" y="470" width="5" height="9" fill="#000"/><rect x="1212" y="471" width="3" height="7" fill="#ff0000"/>
<rect x="1221" y="448" width="1" height="31" fill="#000"/><rect x="1219" y="465" width="5" height="6" fill="#000"/><rect x="1220" y="466" width="3" height="4" fill="#ff0000"/>
<rect x="1229" y="408" width="1" height="76" fill="#000"/><rect x="1227" y="413" width="5" height="52" fill="#000"/><rect x="1228" y="414" width="3" height="50" fill="#ff0000"/>
<rect x="1237" y="407" width="1" height="167" fill="#000"/><rect x="1235" y="413" width="5" height="102" fill="#000"/><rect x="1236" y="414" width="3" height="100" fill="#00ff00"/>
<rect x="1245" y="508" width="1" height="24" fill="#000"/><rect x="1243" y="514" width="5" height="9" fill="#000"/><rect x="1244" y="515" width="3" height="7" fill="#00ff00"/>
<rect x="1253" y="508" width="1" height="20" fill="#000"/><rect x="1251" y="514" width="5" height="9" fill="#000"/><rect x="1252" y="515" width="3" height="7" fill="#ff0000"/>
<rect x="1261" y="508" width="1" height="19" fill="#000"/><rect x="1259" y="514" width="5" height="3" fill="#000"/><rect x="1260" y="515" width="3" height="1" fill="#00ff00"/>
<rect x="1269" y="481" width="1" height="41" fill="#000"/><rect x="1267" y="493" width="5" height="24" fill="#000"/><rect x="1268" y="494" width="3" height="22" fill="#ff0000"/>
<rect x="1277" y="468" width="1" height="35" fill="#000"/><rect x="1275" y="474" width="5" height="20" fill="#000"/><rect x="1276" y="475" width="3" height="18" fill="#ff0000"/>
<rect x="1285" y="359" width="1" height="138" fill="#000"/><rect x="1283" y="407" width="5" height="68" fill="#000"/><rect x="1284" y="408" width="3" height="66" fill="#ff0000"/>
<rect x="1293" y="396" width="1" height="27" fill="#000"/><rect x="1291" y="407" width="5" height="9" fill="#000"/><rect x="1292" y="408" width="3" height="7" fill="#00ff00"/>
</g>
<g shape-rendering="crispEdges">
<rect x="5" y="256" width="1618" height="3" fill="#000"/>
<rect x="5" y="376" width="1618" height="3" fill="#000"/>
<rect x="5" y="522" width="1618" height="3" fill="#0000cd"/>
<rect x="5" y="585" width="1618" height="3" fill="#0000cd"/>
</g>
<ellipse cx="1311.7" cy="380" rx="22.7" ry="29.3" fill="none" stroke="#000" stroke-width="3"/>
<path d="M1311.6 368.6L1328.6 289.5" stroke="#00ff00" stroke-width="6.5" stroke-linecap="round" fill="none"/>
<path d="M1336.6 253.2L1317.6 285L1340.8 290Z" fill="#00ff00"/>
<path d="M1311.7 385.7L1337.6 448" stroke="#ff0000" stroke-width="6.5" stroke-linecap="round" fill="none"/>
<path d="M1351.6 482.4L1327.6 454.6L1349.2 445.8Z" fill="#ff0000"/>
<g shape-rendering="crispEdges" fill="#000">
<rect x="4" y="4" width="1620" height="1"/>
<rect x="4" y="653" width="1620" height="1"/>
<rect x="4" y="655" width="1620" height="1"/>
<rect x="4" y="866" width="1620" height="1"/>
<rect x="4" y="4" width="1" height="863"/>
<rect x="1623" y="4" width="1" height="863"/>
<rect x="1293" y="5" width="9" height="1" fill="#708090"/><rect x="1294" y="6" width="7" height="1" fill="#708090"/><rect x="1295" y="7" width="5" height="1" fill="#708090"/><rect x="1296" y="8" width="3" height="1" fill="#708090"/><rect x="1297" y="9" width="1" height="1" fill="#708090"/>
<rect x="8" y="11" width="7" height="1"/><rect x="9" y="12" width="5" height="1"/><rect x="10" y="13" width="3" height="1"/><rect x="11" y="14" width="1" height="1"/>
<rect x="1624" y="23" width="2" height="1"/><rect x="1624" y="56" width="2" height="1"/><rect x="1624" y="89" width="2" height="1"/><rect x="1624" y="122" width="2" height="1"/><rect x="1624" y="155" width="2" height="1"/><rect x="1624" y="188" width="2" height="1"/><rect x="1624" y="221" width="2" height="1"/><rect x="1624" y="254" width="2" height="1"/><rect x="1624" y="287" width="2" height="1"/><rect x="1624" y="320" width="2" height="1"/><rect x="1624" y="353" width="2" height="1"/><rect x="1624" y="386" width="2" height="1"/><rect x="1624" y="419" width="2" height="1"/><rect x="1624" y="452" width="2" height="1"/><rect x="1624" y="485" width="2" height="1"/><rect x="1624" y="518" width="2" height="1"/><rect x="1624" y="551" width="2" height="1"/><rect x="1624" y="584" width="2" height="1"/><rect x="1624" y="617" width="2" height="1"/><rect x="1624" y="650" width="2" height="1"/><rect x="1624" y="744" width="2" height="1"/><rect x="1624" y="656" width="1" height="1"/><rect x="1624" y="866" width="1" height="1"/>
<rect x="5" y="867" width="1" height="3"/><rect x="69" y="867" width="1" height="3"/><rect x="133" y="867" width="1" height="3"/><rect x="197" y="867" width="1" height="3"/><rect x="261" y="867" width="1" height="3"/><rect x="325" y="867" width="1" height="3"/><rect x="389" y="867" width="1" height="3"/><rect x="453" y="867" width="1" height="3"/><rect x="517" y="867" width="1" height="3"/><rect x="581" y="867" width="1" height="3"/><rect x="645" y="867" width="1" height="3"/><rect x="709" y="867" width="1" height="3"/><rect x="773" y="867" width="1" height="3"/><rect x="837" y="867" width="1" height="3"/><rect x="901" y="867" width="1" height="3"/><rect x="965" y="867" width="1" height="3"/><rect x="1029" y="867" width="1" height="3"/><rect x="1093" y="867" width="1" height="3"/><rect x="1157" y="867" width="1" height="3"/><rect x="1221" y="867" width="1" height="3"/><rect x="1285" y="867" width="1" height="3"/>
</g>
<g>
<text x="1629.5" y="27" textLength="32.5" lengthAdjust="spacingAndGlyphs">1985.30</text><text x="1629.5" y="60" textLength="32.5" lengthAdjust="spacingAndGlyphs">1980.35</text><text x="1629.5" y="93" textLength="32.5" lengthAdjust="spacingAndGlyphs">1975.40</text><text x="1629.5" y="126" textLength="32.5" lengthAdjust="spacingAndGlyphs">1970.30</text><text x="1629.5" y="159" textLength="32.5" lengthAdjust="spacingAndGlyphs">1965.35</text><text x="1629.5" y="192" textLength="32.5" lengthAdjust="spacingAndGlyphs">1960.40</text><text x="1629.5" y="225" textLength="32.5" lengthAdjust="spacingAndGlyphs">1955.45</text><text x="1629.5" y="258" textLength="32.5" lengthAdjust="spacingAndGlyphs">1950.50</text><text x="1629.5" y="291" textLength="32.5" lengthAdjust="spacingAndGlyphs">1945.55</text><text x="1629.5" y="324" textLength="32.5" lengthAdjust="spacingAndGlyphs">1940.60</text><text x="1629.5" y="357" textLength="32.5" lengthAdjust="spacingAndGlyphs">1935.65</text><text x="1629.5" y="390" textLength="32.5" lengthAdjust="spacingAndGlyphs">1930.55</text><text x="1629.5" y="423" textLength="32.5" lengthAdjust="spacingAndGlyphs">1925.60</text><text x="1629.5" y="456" textLength="32.5" lengthAdjust="spacingAndGlyphs">1920.65</text><text x="1629.5" y="489" textLength="32.5" lengthAdjust="spacingAndGlyphs">1915.70</text><text x="1629.5" y="522" textLength="32.5" lengthAdjust="spacingAndGlyphs">1910.75</text><text x="1629.5" y="555" textLength="32.5" lengthAdjust="spacingAndGlyphs">1905.80</text><text x="1629.5" y="588" textLength="32.5" lengthAdjust="spacingAndGlyphs">1900.85</text><text x="1629.5" y="621" textLength="32.5" lengthAdjust="spacingAndGlyphs">1895.90</text><text x="1629.5" y="654" textLength="32.5" lengthAdjust="spacingAndGlyphs">1890.95</text>
<text x="1627.3" y="666" textLength="22.5" lengthAdjust="spacingAndGlyphs">7.118</text><text x="1627.3" y="748" textLength="18.0" lengthAdjust="spacingAndGlyphs">0.00</text><text x="1627" y="863" textLength="26.0" lengthAdjust="spacingAndGlyphs">-9.945</text>
</g>
<rect x="1625" y="251" width="41" height="11" fill="#000" shape-rendering="crispEdges"/><text class="w" x="1629.5" y="260" textLength="32.5" lengthAdjust="spacingAndGlyphs">1950.00</text>
<rect x="1625" y="371" width="41" height="11" fill="#000" shape-rendering="crispEdges"/><text class="w" x="1629.5" y="380" textLength="32.5" lengthAdjust="spacingAndGlyphs">1932.00</text>
<rect x="1625" y="410" width="41" height="11" fill="#000" shape-rendering="crispEdges"/><text class="w" x="1629.5" y="419" textLength="32.5" lengthAdjust="spacingAndGlyphs">1926.23</text>
<rect x="1625" y="517" width="41" height="11" fill="#0000cd" shape-rendering="crispEdges"/><text class="w" x="1629.5" y="526" textLength="32.5" lengthAdjust="spacingAndGlyphs">1910.00</text>
<rect x="1625" y="580" width="41" height="11" fill="#0000cd" shape-rendering="crispEdges"/><text class="w" x="1629.5" y="589" textLength="32.5" lengthAdjust="spacingAndGlyphs">1900.57</text>
<text x="20" y="16" textLength="57.0" lengthAdjust="spacingAndGlyphs">XAUUSD-,H4</text><text x="83.7" y="16" textLength="32.0" lengthAdjust="spacingAndGlyphs">1927.48</text><text x="119.6" y="16" textLength="32.0" lengthAdjust="spacingAndGlyphs">1929.18</text><text x="155.5" y="16" textLength="32.0" lengthAdjust="spacingAndGlyphs">1925.27</text><text x="191.6" y="16" textLength="32.0" lengthAdjust="spacingAndGlyphs">1926.23</text>
<text x="9.1" y="668" textLength="65.5" lengthAdjust="spacingAndGlyphs">MACD(12,26,9)</text><text x="78.1" y="668" textLength="22.5" lengthAdjust="spacingAndGlyphs">0.199</text><text x="104.4" y="668" textLength="25.4" lengthAdjust="spacingAndGlyphs">-0.672</text>
<text x="4" y="879" textLength="54.4" lengthAdjust="spacingAndGlyphs">31 May 2023</text><text x="68" y="879" textLength="47.6" lengthAdjust="spacingAndGlyphs">2 Jun 04:00</text><text x="132" y="879" textLength="47.6" lengthAdjust="spacingAndGlyphs">5 Jun 12:00</text><text x="196" y="879" textLength="47.6" lengthAdjust="spacingAndGlyphs">6 Jun 20:00</text><text x="260" y="879" textLength="47.6" lengthAdjust="spacingAndGlyphs">8 Jun 04:00</text><text x="324" y="879" textLength="47.6" lengthAdjust="spacingAndGlyphs">9 Jun 12:00</text><text x="388" y="879" textLength="52.6" lengthAdjust="spacingAndGlyphs">12 Jun 20:00</text><text x="452" y="879" textLength="52.6" lengthAdjust="spacingAndGlyphs">14 Jun 04:00</text><text x="516" y="879" textLength="52.6" lengthAdjust="spacingAndGlyphs">15 Jun 12:00</text><text x="580" y="879" textLength="52.6" lengthAdjust="spacingAndGlyphs">18 Jun 23:00</text><text x="644" y="879" textLength="52.6" lengthAdjust="spacingAndGlyphs">20 Jun 04:00</text><text x="708" y="879" textLength="52.6" lengthAdjust="spacingAndGlyphs">21 Jun 12:00</text><text x="772" y="879" textLength="52.6" lengthAdjust="spacingAndGlyphs">22 Jun 20:00</text><text x="836" y="879" textLength="52.6" lengthAdjust="spacingAndGlyphs">26 Jun 04:00</text><text x="900" y="879" textLength="52.6" lengthAdjust="spacingAndGlyphs">27 Jun 12:00</text><text x="964" y="879" textLength="52.6" lengthAdjust="spacingAndGlyphs">28 Jun 20:00</text><text x="1028" y="879" textLength="52.6" lengthAdjust="spacingAndGlyphs">30 Jun 04:00</text><text x="1092" y="879" textLength="44.6" lengthAdjust="spacingAndGlyphs">3 Jul 12:00</text><text x="1156" y="879" textLength="44.6" lengthAdjust="spacingAndGlyphs">4 Jul 22:00</text><text x="1220" y="879" textLength="44.6" lengthAdjust="spacingAndGlyphs">6 Jul 04:00</text><text x="1284" y="879" textLength="44.6" lengthAdjust="spacingAndGlyphs">7 Jul 12:00</text>
</svg>
</body></html>
